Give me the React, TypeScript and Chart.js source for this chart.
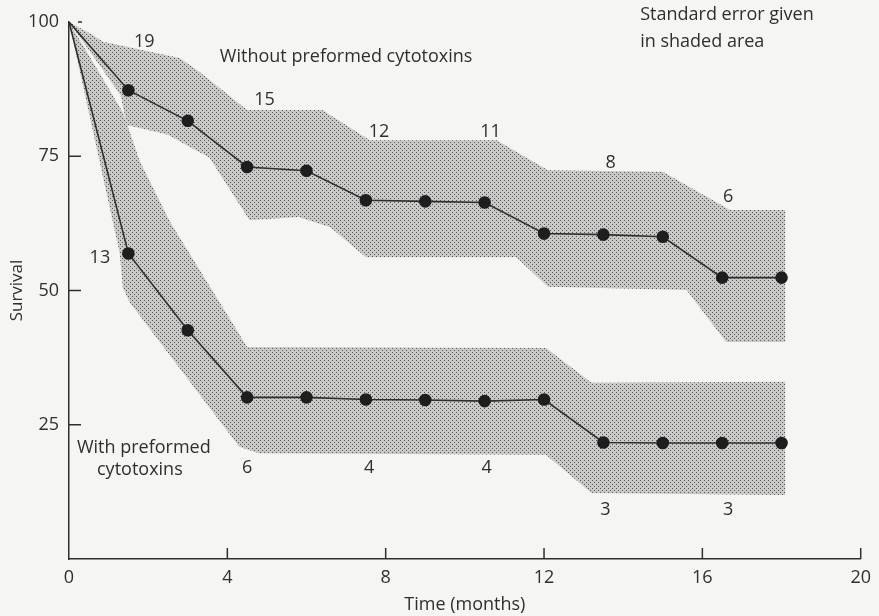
import React, { useEffect, useRef } from 'react';
import { Chart, registerables } from 'chart.js';

Chart.register(...registerables);

// ---- data ----
const months = [0, 1.5, 3, 4.5, 6, 7.5, 9, 10.5, 12, 13.5, 15, 16.5, 18];
const withoutCytotoxins = [100, 87.3, 81.6, 73.0, 72.3, 66.8, 66.6, 66.4, 60.6, 60.4, 60.0, 52.4, 52.4];
const withCytotoxins = [100, 56.9, 42.6, 30.1, 30.1, 29.7, 29.6, 29.4, 29.7, 21.7, 21.6, 21.6, 21.6];

// standard error envelopes (upper / lower edges)
const withoutUpperX = [0, 0.6, 0.86, 2.8, 3.3, 4.5, 6.4, 7.6, 10.8, 12.1, 15.0, 16.7, 18.1];
const withoutUpperY = [100, 97.6, 96.3, 93.3, 90.7, 83.6, 83.6, 78.0, 78.0, 72.4, 72.1, 65.0, 65.0];
const withoutLowerX = [0, 1.3, 1.46, 2.5, 3.55, 4.56, 5.8, 6.6, 7.5, 11.3, 12.1, 15.6, 16.6, 18.1];
const withoutLowerY = [100, 86.4, 80.8, 79.0, 74.7, 63.1, 63.7, 61.8, 56.2, 56.2, 50.7, 50.1, 40.4, 40.4];
const withUpperX = [0, 1.36, 1.8, 2.55, 4.5, 12.05, 13.2, 18.1];
const withUpperY = [100, 83.2, 73.9, 62.8, 39.5, 39.3, 32.8, 33.0];
const withLowerX = [0, 1.28, 1.36, 1.54, 4.3, 4.8, 12.05, 13.2, 18.1];
const withLowerY = [100, 57.0, 50.5, 47.7, 20.9, 19.7, 19.4, 12.3, 11.9];

// numbers at risk / labels
const riskLabels = ['19', '15', '12', '11', '8', '6', '13', '6', '4', '4', '3', '3'];
const riskX = [1.9, 4.94, 7.83, 10.65, 13.68, 16.65, 0.78, 4.5, 7.58, 10.55, 13.55, 16.65];
const riskY = [96.3, 85.5, 79.5, 79.5, 73.7, 67.4, 56.1, 16.9, 16.9, 16.9, 9.1, 9.1];

const textLabels = ['Without preformed cytotoxins', 'With preformed', 'cytotoxins'];
const textX = [7.0, 1.89, 1.79];
const textY = [93.5, 20.7, 16.6];

const noteLabels = ['Standard error given', 'in shaded area'];
const noteX = [14.43, 14.43];
const noteY = [101.3, 96.3];

const xTicks = [0, 4, 8, 12, 16, 20];
const yTicks = [25, 50, 75, 100];

const FONT = "'Open Sans', 'DejaVu Sans', sans-serif";
const INK = '#2f2f2f';

const pts = (xs: number[], ys: number[]) => xs.map((x, i) => ({ x, y: ys[i] }));

export default function App() {
  const ref = useRef<HTMLCanvasElement>(null);

  useEffect(() => {
    const canvas = ref.current!;
    const pc = document.createElement('canvas');
    pc.width = 4;
    pc.height = 4;
    const pctx = pc.getContext('2d')!;
    pctx.fillStyle = '#c9c9c7';
    pctx.fillRect(0, 0, 4, 4);
    pctx.fillStyle = '#555555';
    pctx.fillRect(0, 0, 1, 1);
    pctx.fillRect(2, 2, 1, 1);
    const pattern = canvas.getContext('2d')!.createPattern(pc, 'repeat')!;

    const decor = {
      id: 'decor',
      afterDraw(chart: any) {
        const { ctx, scales } = chart;
        const x = scales.x;
        const y = scales.y;
        ctx.save();
        ctx.strokeStyle = INK;
        ctx.lineWidth = 1.5;
        for (const v of yTicks) {
          const py = y.getPixelForValue(v);
          ctx.beginPath();
          if (v === 100) {
            ctx.moveTo(x.left + 9, py);
            ctx.lineTo(x.left + 13, py);
          } else {
            ctx.moveTo(x.left, py);
            ctx.lineTo(x.left + 12, py);
          }
          ctx.stroke();
        }
        for (const v of xTicks) {
          if (v === 0) continue;
          const px = x.getPixelForValue(v);
          ctx.beginPath();
          ctx.moveTo(px, y.bottom);
          ctx.lineTo(px, y.bottom - 11);
          ctx.stroke();
        }
        ctx.fillStyle = INK;
        ctx.textAlign = 'center';
        ctx.textBaseline = 'middle';
        ctx.font = `18px ${FONT}`;
        riskLabels.forEach((t, i) => {
          ctx.fillText(t, x.getPixelForValue(riskX[i]), y.getPixelForValue(riskY[i]));
        });
        textLabels.forEach((t, i) => {
          ctx.fillText(t, x.getPixelForValue(textX[i]), y.getPixelForValue(textY[i]));
        });
        ctx.textAlign = 'left';
        noteLabels.forEach((t, i) => {
          ctx.fillText(t, x.getPixelForValue(noteX[i]), y.getPixelForValue(noteY[i]));
        });
        ctx.restore();
      },
    };

    const lineStyle = {
      borderColor: INK,
      borderWidth: 1.6,
      pointBackgroundColor: '#1e1e1e',
      pointBorderColor: '#1e1e1e',
      pointRadius: months.map((m) => (m === 0 ? 0 : 5.5)),
      fill: false,
      tension: 0,
    };
    const edge = {
      borderColor: 'transparent',
      borderWidth: 0,
      pointRadius: 0,
      tension: 0,
    };

    const chart = new Chart(canvas, {
      type: 'line',
      data: {
        datasets: [
          { ...lineStyle, label: 'Without preformed cytotoxins', data: pts(months, withoutCytotoxins) } as any,
          { ...lineStyle, label: 'With preformed cytotoxins', data: pts(months, withCytotoxins) } as any,
          { ...edge, label: 'without SE upper', data: pts(withoutUpperX, withoutUpperY), fill: false } as any,
          { ...edge, label: 'without SE lower', data: pts(withoutLowerX, withoutLowerY), fill: '-1', backgroundColor: pattern } as any,
          { ...edge, label: 'with SE upper', data: pts(withUpperX, withUpperY), fill: false } as any,
          { ...edge, label: 'with SE lower', data: pts(withLowerX, withLowerY), fill: '-1', backgroundColor: pattern } as any,
        ],
      },
      options: {
        responsive: false,
        animation: false,
        parsing: true,
        layout: { padding: { top: 22, right: 16, left: 0, bottom: 0 } },
        plugins: {
          legend: { display: false },
          tooltip: { enabled: false },
        },
        scales: {
          x: {
            type: 'linear',
            min: 0,
            max: 20,
            afterFit: (s: any) => {
              s.height = 57;
            },
            afterBuildTicks: (s: any) => {
              s.ticks = xTicks.map((v) => ({ value: v }));
            },
            grid: { display: false, drawTicks: false },
            border: { display: true, color: INK, width: 1.5 },
            ticks: {
              color: INK,
              font: { family: FONT, size: 18 },
              padding: 8,
              maxRotation: 0,
            },
            title: {
              display: true,
              text: 'Time (months)',
              color: INK,
              font: { family: FONT, size: 18 },
              padding: { top: 3, bottom: 0 },
            },
          },
          y: {
            type: 'linear',
            min: 0,
            max: 100,
            afterFit: (s: any) => {
              s.width = 69;
            },
            afterBuildTicks: (s: any) => {
              s.ticks = yTicks.map((v) => ({ value: v }));
            },
            grid: { display: false, drawTicks: false },
            border: { display: true, color: INK, width: 1.5 },
            ticks: {
              color: INK,
              font: { family: FONT, size: 18 },
              padding: 10,
            },
            title: {
              display: true,
              text: 'Survival',
              color: INK,
              font: { family: FONT, size: 17 },
              padding: { top: 7, bottom: 0 },
            },
          },
        },
      },
      plugins: [decor],
    });

    return () => chart.destroy();
  }, []);

  return (
    <div style={{ position: 'absolute', left: 0, top: 0, width: 879, height: 616, background: '#f5f5f3' }}>
      <canvas ref={ref} width={879} height={616} style={{ display: 'block' }} />
    </div>
  );
}
